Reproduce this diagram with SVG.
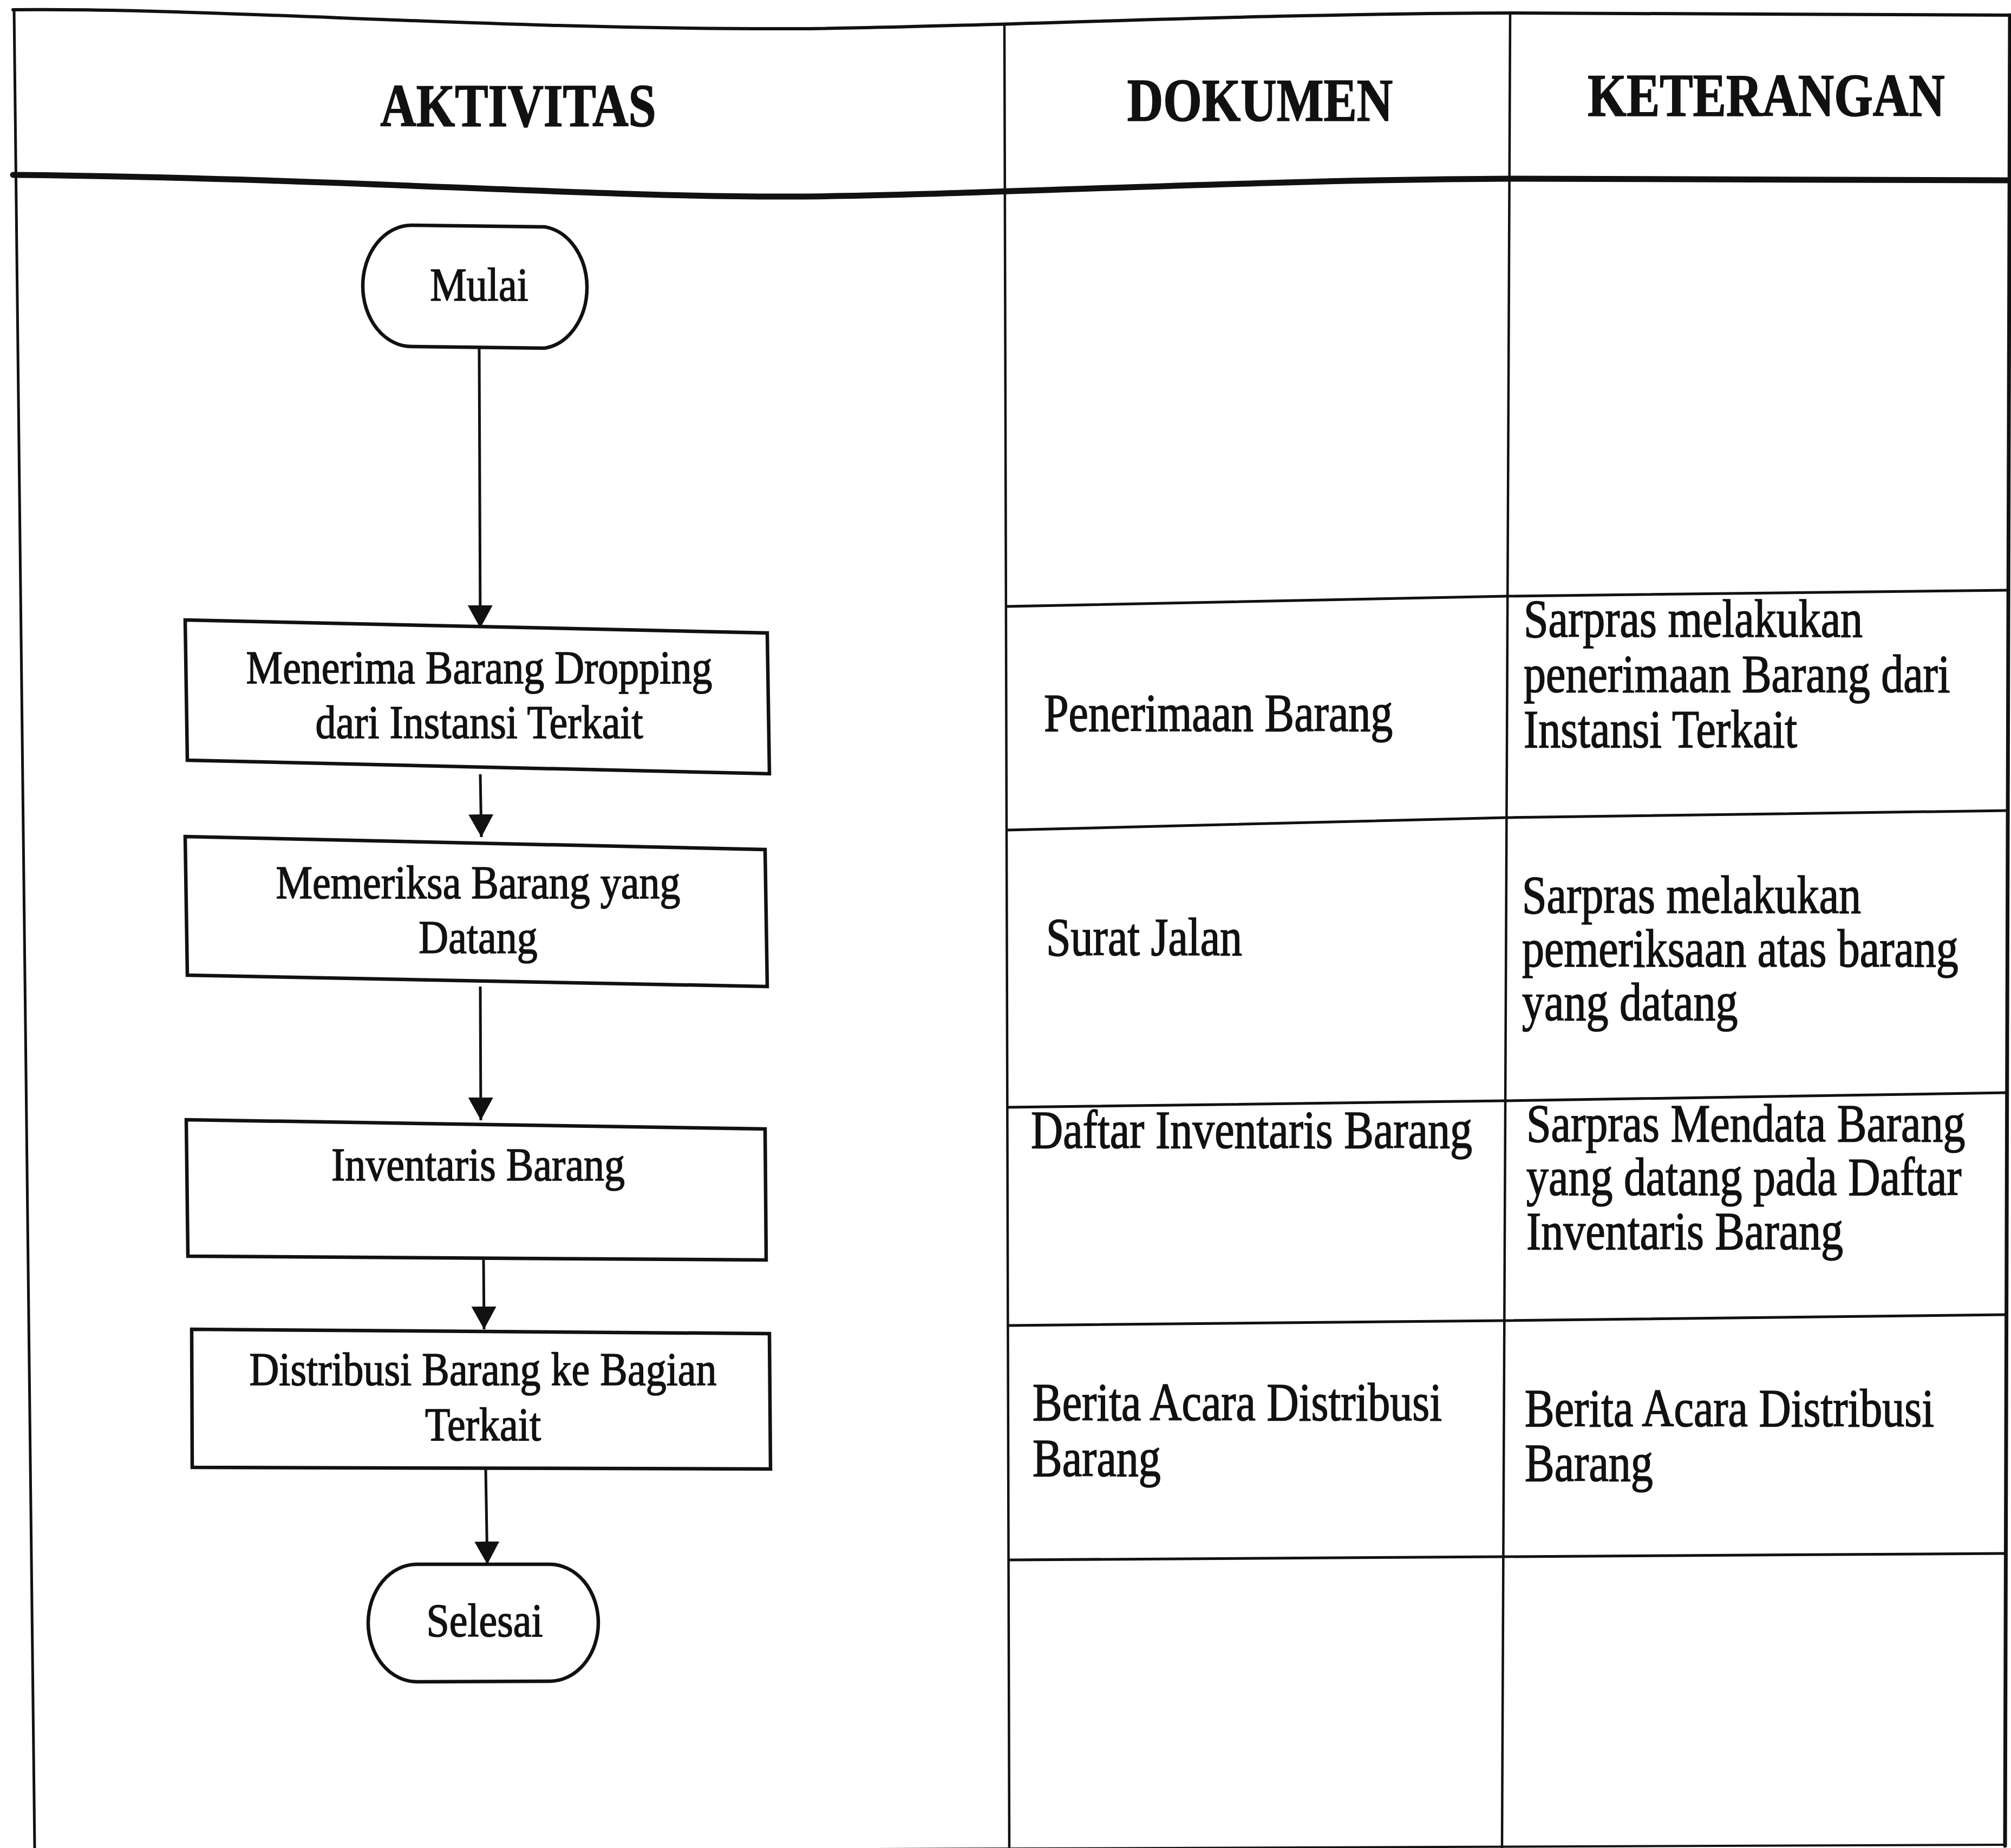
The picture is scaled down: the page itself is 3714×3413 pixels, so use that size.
<svg xmlns="http://www.w3.org/2000/svg" width="3714" height="3413" viewBox="0 0 3714 3413">
  <defs>
    <marker id="arrow" markerUnits="userSpaceOnUse" markerWidth="44" markerHeight="48" refX="42" refY="23" orient="auto">
      <path d="M0,0 L42,23 L0,46 Z" fill="#111"/>
    </marker>
    <style>
      .grid { fill: none; stroke: #111; stroke-linecap: round; }
      .shape { fill: #fff; stroke: #111; stroke-width: 6.5; stroke-linejoin: miter; }
      .flow { fill: none; stroke: #111; stroke-width: 5; marker-end: url(#arrow); }
      text { font-family: "Liberation Serif", "Times New Roman", serif; fill: #111; stroke: #111; stroke-width: 1.4; }
      .head { font-weight: bold; font-size: 92px; text-anchor: middle; }
      .node { font-size: 76px; text-anchor: middle; }
      .cell { font-size: 82px; }
    </style>
  </defs>

  <rect x="0" y="0" width="3714" height="3413" fill="#fff"/>

  <!-- table frame -->
  <g id="table">
    <path class="grid" stroke-width="6" d="M24,18 C400,14 900,55 1470,53 C1750,52 2300,25 2789,24 C3200,23 3500,27 3712,28"/>
    <path class="grid" stroke-width="11" d="M24,323 C600,328 1100,365 1470,363 C1750,362 2300,332 2791,330 C3200,329 3500,333 3712,333"/>
    <path class="grid" stroke-width="5" d="M26,18 L64,3413"/>
    <path class="grid" stroke-width="4.5" d="M1855,47 L1864,3413"/>
    <path class="grid" stroke-width="4.5" d="M2789,24 L2774,3413"/>
    <path class="grid" stroke-width="7" d="M3712,28 L3703,3409"/>
    <path class="grid" stroke-width="5" d="M1859,1120 L2784,1101 L3710,1090"/>
    <path class="grid" stroke-width="5" d="M1860,1533 L2782,1510 L3709,1497"/>
    <path class="grid" stroke-width="5" d="M1861,2045 L2778,2033 L3707,2018"/>
    <path class="grid" stroke-width="5" d="M1862,2448 L2776,2439 L3705,2428"/>
    <path class="grid" stroke-width="5" d="M1863,2881 L2775,2875 L3704,2869"/>
    <path class="grid" stroke-width="4" d="M1350,3416 L3703,3407"/>
  </g>

  <!-- column headings (glyphs stretched upward as printed) -->
  <g id="headings">
    <text class="head" font-size="93" transform="translate(957 233) scale(1 1.22)">AKTIVITAS</text>
    <text class="head" transform="translate(2327 223) scale(1 1.22)">DOKUMEN</text>
    <text class="head" transform="translate(3262 214) scale(1 1.22)">KETERANGAN</text>
  </g>

  <!-- connectors -->
  <g id="connectors">
    <path class="flow" d="M885,643 L887,1160"/>
    <path class="flow" d="M887,1430 L889,1546"/>
    <path class="flow" d="M887,1822 L888,2069"/>
    <path class="flow" d="M893,2327 L894,2455"/>
    <path class="flow" d="M897,2713 L900,2889"/>
  </g>

  <!-- flow nodes -->
  <g id="node-mulai">
    <path class="shape" d="M760,416 L1006,419 A90,113 0 0 1 1006,643 L760,640 A90,112 0 0 1 760,416 Z"/>
    <text class="node" transform="translate(885 555) scale(1 1.15)">Mulai</text>
  </g>

  <g id="node-menerima">
    <polygon class="shape" points="342,1145 1417,1169 1421,1429 346,1404"/>
    <text class="node" transform="translate(885 1262) scale(1 1.15)">Menerima Barang Dropping</text>
    <text class="node" transform="translate(885 1363) scale(1 1.15)">dari Instansi Terkait</text>
  </g>

  <g id="node-memeriksa">
    <polygon class="shape" points="342,1545 1413,1569 1417,1822 346,1801"/>
    <text class="node" transform="translate(883 1659) scale(1 1.15)">Memeriksa Barang yang</text>
    <text class="node" transform="translate(883 1760) scale(1 1.15)">Datang</text>
  </g>

  <g id="node-inventaris">
    <polygon class="shape" points="344,2068 1413,2085 1415,2327 347,2320"/>
    <text class="node" transform="translate(883 2180) scale(1 1.15)">Inventaris Barang</text>
  </g>

  <g id="node-distribusi">
    <polygon class="shape" points="354,2455 1421,2463 1423,2713 355,2710"/>
    <text class="node" transform="translate(892 2558) scale(1 1.15)">Distribusi Barang ke Bagian</text>
    <text class="node" transform="translate(892 2660) scale(1 1.15)">Terkait</text>
  </g>

  <g id="node-selesai">
    <path class="shape" d="M770,2889 L1015,2889 A90,108 0 0 1 1015,3105 L770,3106 A90,108.5 0 0 1 770,2889 Z"/>
    <text class="node" transform="translate(895 3022) scale(1 1.15)">Selesai</text>
  </g>

  <!-- document column -->
  <g id="dokumen">
    <text class="cell" transform="translate(1928 1350) scale(1 1.2)">Penerimaan Barang</text>
    <text class="cell" transform="translate(1932 1764) scale(1 1.2)">Surat Jalan</text>
    <text class="cell" transform="translate(1904 2120) scale(1 1.2)">Daftar Inventaris Barang</text>
    <text class="cell" transform="translate(1907 2623) scale(1 1.2)">Berita Acara Distribusi</text>
    <text class="cell" transform="translate(1907 2726) scale(1 1.2)">Barang</text>
  </g>

  <!-- remarks column -->
  <g id="keterangan">
    <text class="cell" transform="translate(2814 1176) scale(1 1.2)">Sarpras melakukan</text>
    <text class="cell" transform="translate(2814 1278) scale(1 1.2)">penerimaan Barang dari</text>
    <text class="cell" transform="translate(2814 1380) scale(1 1.2)">Instansi Terkait</text>
    <text class="cell" transform="translate(2811 1686) scale(1 1.2)">Sarpras melakukan</text>
    <text class="cell" transform="translate(2811 1785) scale(1 1.2)">pemeriksaan atas barang</text>
    <text class="cell" transform="translate(2811 1884) scale(1 1.2)">yang datang</text>
    <text class="cell" transform="translate(2819 2108) scale(1 1.2)">Sarpras Mendata Barang</text>
    <text class="cell" transform="translate(2819 2207) scale(1 1.2)">yang datang pada Daftar</text>
    <text class="cell" transform="translate(2819 2307) scale(1 1.2)">Inventaris Barang</text>
    <text class="cell" transform="translate(2816 2634) scale(1 1.2)">Berita Acara Distribusi</text>
    <text class="cell" transform="translate(2816 2735) scale(1 1.2)">Barang</text>
  </g>
</svg>
